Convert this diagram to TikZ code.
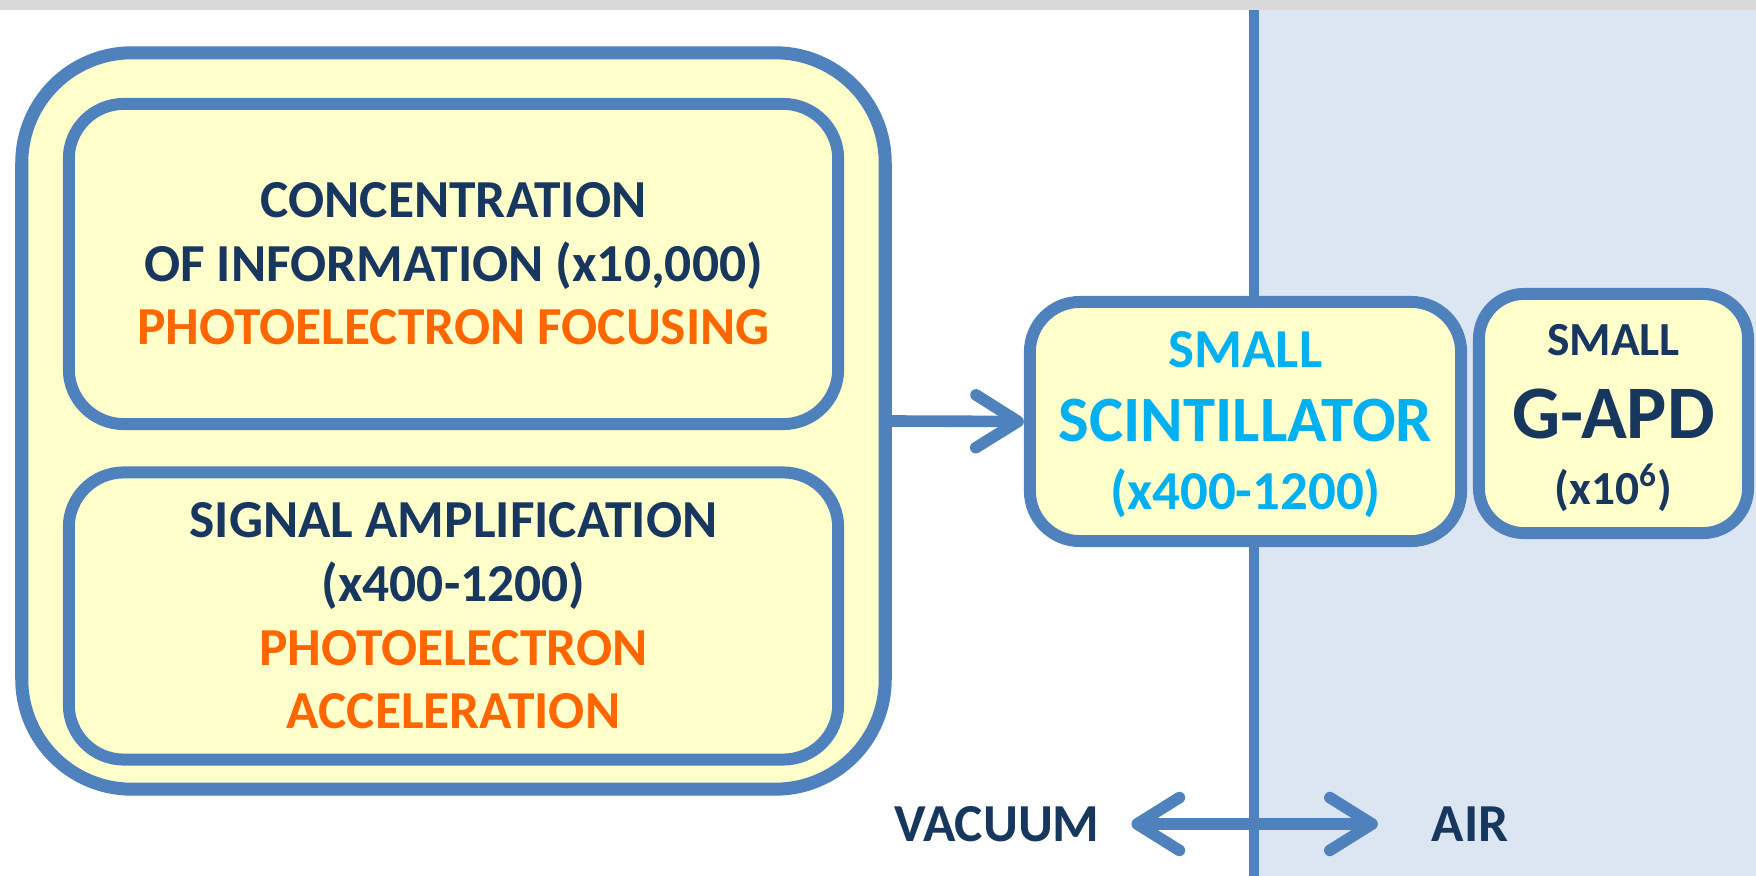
\documentclass[tikz,border=0pt]{standalone}
\usepackage{fontspec}
\setmainfont{Carlito}
\usetikzlibrary{arrows.meta}

\begin{document}
\begin{tikzpicture}[x=0.01cm,y=-0.01cm,
  box/.style={draw=kBlue,fill=kYellow,line width=3.4pt,inner sep=0pt,align=center,
    font=\bfseries\fontsize{15.2}{18.1}\selectfont,text=kNavy},
  flow/.style={draw=kBlue,line width=3.3pt,line cap=round},
  label/.style={inner sep=0pt,text=kNavy,font=\bfseries\fontsize{15.2}{18}\selectfont}]
  % colors
  \definecolor{kBlue}{RGB}{79,129,189}
  \definecolor{kYellow}{RGB}{255,255,204}
  \definecolor{kNavy}{RGB}{23,55,94}
  \definecolor{kOrange}{RGB}{255,102,0}
  \definecolor{kCyan}{RGB}{0,176,240}
  \definecolor{kAir}{RGB}{220,230,242}
  \definecolor{kGrey}{RGB}{217,217,217}
  \useasboundingbox (0,0) rectangle (1756,876);
  % background
  \fill[kAir] (1254,10) rectangle (1756,876);
  \fill[kGrey] (0,0) rectangle (1756,10);
  \draw[kBlue,line width=3.1pt] (1254,10) -- (1254,876);
  % photocathode side
  \node[box,line width=3.7pt,rounded corners=1.1cm,minimum width=8.63cm,minimum height=7.36cm]
    (outer) at (453.5,421) {};
  \node[box,rounded corners=0.55cm,minimum width=7.69cm,minimum height=3.2cm]
    (focus) at (453.5,264)
    {CONCENTRATION\\OF INFORMATION (x10,000)\\\textcolor{kOrange}{PHOTOELECTRON FOCUSING}};
  \node[box,rounded corners=0.55cm,minimum width=7.69cm,minimum height=2.87cm]
    (accel) at (453.5,616)
    {SIGNAL AMPLIFICATION\\(x400-1200)\\\textcolor{kOrange}{PHOTOELECTRON}\\\textcolor{kOrange}{ACCELERATION}};
  % readout
  \node[box,rounded corners=0.5cm,minimum width=4.31cm,minimum height=2.39cm,text=kCyan,
    font=\bfseries\fontsize{15.6}{20.2}\selectfont]
    (scint) at (1245.5,421.5)
    {\rule{0pt}{12.2pt}SMALL\\[0.8pt]{\fontsize{18.4}{20.2}\selectfont SCINTILLATOR}\\[-0.8pt](x400-1200)};
  \node[box,rounded corners=0.45cm,minimum width=2.69cm,minimum height=2.39cm,
    font=\bfseries\fontsize{13.5}{21.3}\selectfont]
    (gapd) at (1613.5,413.5)
    {\rule{0pt}{11.4pt}SMALL\\[2.5pt]{\fontsize{21.5}{21.3}\selectfont G-APD}\\[-2.5pt](x10\textsuperscript{6})};
  \draw[flow,-{Straight Barb[length=12pt,width=15pt,round]}] (outer.east) -- (scint.west);
  % vacuum / air
  \node[label] (vac) at (997,824) {VACUUM};
  \node[label] (air) at (1470,824) {AIR};
  \draw[flow,{Straight Barb[length=12pt,width=15pt,round]}-{Straight Barb[length=12pt,width=15pt,round]},
    shorten <=0.31cm,shorten >=0.53cm] (vac.east) -- (air.west);
\end{tikzpicture}
\end{document}
